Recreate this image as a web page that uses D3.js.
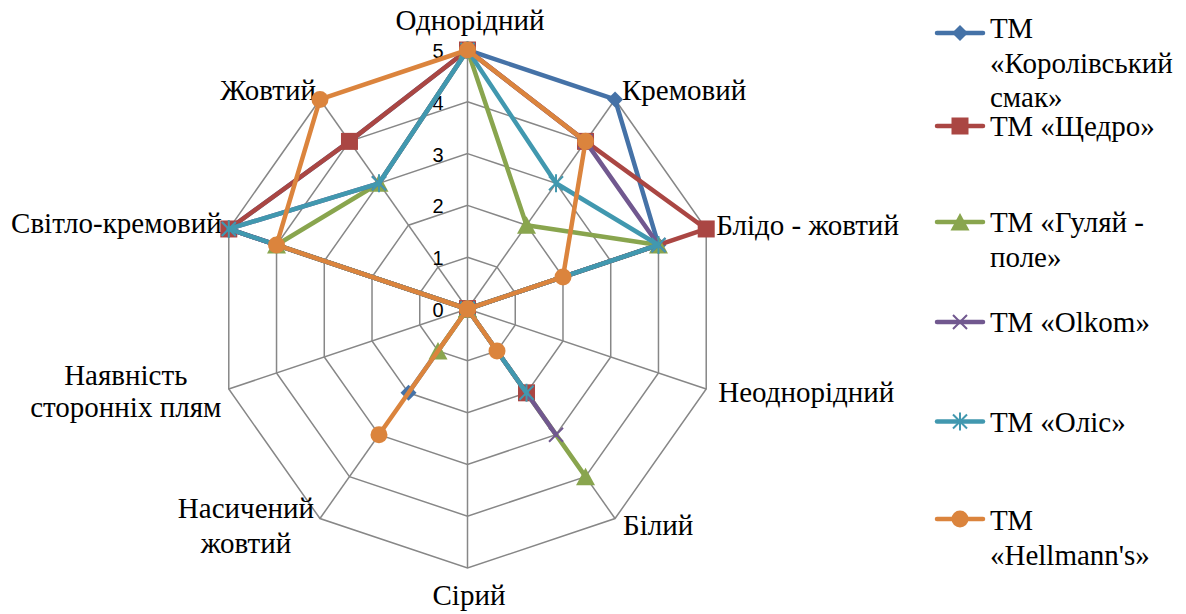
<!DOCTYPE html>
<html><head><meta charset="utf-8">
<script src="https://cdn.jsdelivr.net/npm/d3@7"></script>
<style>html,body{margin:0;padding:0;background:#fff;}svg{display:block;}</style>
</head><body>
<svg id="chart" width="1186" height="614"></svg>
<script>
const categories = ["Однорідний","Кремовий","Блідо - жовтий","Неоднорідний","Білий","Сірий","Насичений жовтий","Наявність сторонніх плям","Світло-кремовий","Жовтий"];
const tickValues = [0,1,2,3,4,5];
const seriesNames = ["ТМ «Королівський смак»","ТМ «Щедро»","ТМ «Гуляй - поле»","ТМ «Olkom»","ТМ «Оліс»","ТМ «Hellmann's»"];
const korolivskyi = [5,5,4,0,0,0,2,0,5,4];
const shchedro    = [5,4,5,0,2,0,0,0,5,4];
const huliaipole  = [5,2,4,0,4,0,1,0,4,3];
const olkom       = [5,4,4,0,3,0,0,0,5,3];
const olis        = [5,3,4,0,2,0,0,0,5,3];
const hellmanns   = [5,4,2,0,1,0,3,0,4,5];
const seriesValues = [korolivskyi, shchedro, huliaipole, olkom, olis, hellmanns];

const colors = ["#4572A7","#AA4643","#89A54E","#71588F","#4198AF","#DB843D"];
const markers = ["diamond","square","triangle","x","asterisk","circle"];

const svg = d3.select("#chart");
const cx = 467.5, cy = 309;
const rX = d3.scaleLinear().domain([0,5]).range([0,251]);
const rY = d3.scaleLinear().domain([0,5]).range([0,259]);
const ang = d3.scaleLinear().domain([0, categories.length]).range([0, 2*Math.PI]);
function pt(i, v){ const a = ang(i); return [cx + rX(v)*Math.sin(a), cy - rY(v)*Math.cos(a)]; }

// grid rings
const grid = svg.append("g");
tickValues.filter(t=>t>0).forEach(t=>{
  grid.append("path")
    .attr("d", d3.line()(categories.map((c,i)=>pt(i,t))) + "Z")
    .attr("fill","none").attr("stroke","#878787").attr("stroke-width",1.5);
});
categories.forEach((c,i)=>{
  const p = pt(i,5);
  grid.append("line").attr("x1",cx).attr("y1",cy).attr("x2",p[0]).attr("y2",p[1])
    .attr("stroke","#878787").attr("stroke-width",1.5);
});

// tick labels
svg.append("g").selectAll("text").data(tickValues).join("text")
  .attr("x", cx-24).attr("y", d=>cy - rY(d) + 1)
  .attr("text-anchor","end").attr("dominant-baseline","central")
  .attr("font-family","'Liberation Sans', Arial, sans-serif").attr("font-size",20).attr("fill","#000")
  .text(d=>d);

// category labels
const labelCfg = [
  {anchor:"middle", dx:2.5, dy:-20, lh:33, lines:["Однорідний"]},
  {anchor:"start",  dx:7,   dy:0.5, lh:33, lines:["Кремовий"]},
  {anchor:"start",  dx:10,  dy:6,   lh:33, lines:["Блідо - жовтий"]},
  {anchor:"start",  dx:12,  dy:12.5,lh:33, lines:["Неоднорідний"]},
  {anchor:"start",  dx:8,   dy:16.5,lh:33, lines:["Білий"]},
  {anchor:"middle", dx:1.5, dy:37,  lh:33, lines:["Сірий"]},
  {anchor:"middle", dx:-74, dy:-0.5,lh:35, lines:["Насичений","жовтий"]},
  {anchor:"middle", dx:-103,dy:-4,  lh:32, lines:["Наявність","сторонніх плям"]},
  {anchor:"end",    dx:-7,  dy:4,   lh:33, lines:["Світло-кремовий"]},
  {anchor:"end",    dx:-4,  dy:0.5, lh:33, lines:["Жовтий"]}
];
const lab = svg.append("g").attr("font-family","'Liberation Serif','Times New Roman',serif").attr("font-size",29).attr("fill","#000");
categories.forEach((c,i)=>{
  const p = pt(i,5), cfg = labelCfg[i];
  const t = lab.append("text").attr("text-anchor",cfg.anchor);
  cfg.lines.forEach((ln,k)=>{
    t.append("tspan").attr("x",p[0]+cfg.dx).attr("y",p[1]+cfg.dy+k*cfg.lh).text(ln);
  });
});

function drawMarker(g, type, x, y, color){
  if(type==="diamond"){
    g.append("path").attr("d",`M${x},${y-8}L${x+8},${y}L${x},${y+8}L${x-8},${y}Z`).attr("fill",color);
  } else if(type==="square"){
    g.append("rect").attr("x",x-8.5).attr("y",y-8.5).attr("width",17).attr("height",17).attr("fill",color);
  } else if(type==="triangle"){
    g.append("path").attr("d",`M${x},${y-9}L${x+9.5},${y+8.5}L${x-9.5},${y+8.5}Z`).attr("fill",color);
  } else if(type==="x"){
    g.append("path").attr("d",`M${x-7},${y-7}L${x+7},${y+7}M${x-7},${y+7}L${x+7},${y-7}`).attr("stroke",color).attr("stroke-width",2).attr("fill","none");
  } else if(type==="asterisk"){
    g.append("path").attr("d",`M${x-7},${y-7}L${x+7},${y+7}M${x-7},${y+7}L${x+7},${y-7}M${x},${y-9}L${x},${y+9}`).attr("stroke",color).attr("stroke-width",2).attr("fill","none");
  } else if(type==="circle"){
    g.append("circle").attr("cx",x).attr("cy",y).attr("r",8.5).attr("fill",color);
  }
}

// series
const lineGen = d3.line();
seriesValues.forEach((vals,s)=>{
  const g = svg.append("g");
  const pts = vals.map((v,i)=>pt(i,v));
  g.append("path").attr("d", lineGen(pts)+"Z").attr("fill","none")
    .attr("stroke",colors[s]).attr("stroke-width",4.5).attr("stroke-linejoin","round");
  pts.forEach(p=>drawMarker(g, markers[s], p[0], p[1], colors[s]));
});

// legend
const legendLines = [["ТМ","«Королівський","смак»"],["ТМ «Щедро»"],["ТМ «Гуляй -","поле»"],["ТМ «Olkom»"],["ТМ «Оліс»"],["ТМ","«Hellmann's»"]];
const legendY = [33,126,222,322,421.5,519];
const legendBase = [5,10,10,10,10,11];
const leg = svg.append("g").attr("font-family","'Liberation Serif','Times New Roman',serif").attr("font-size",29).attr("fill","#000");
seriesNames.forEach((n,s)=>{
  const y = legendY[s];
  const g = leg.append("g");
  g.append("line").attr("x1",937).attr("x2",983).attr("y1",y).attr("y2",y)
    .attr("stroke",colors[s]).attr("stroke-width",4.5).attr("stroke-linecap","round");
  drawMarker(g, markers[s], 960, y, colors[s]);
  const t = g.append("text").attr("x",990);
  legendLines[s].forEach((ln,k)=>{
    t.append("tspan").attr("x",990).attr("y",y+legendBase[s]+k*34.5).text(ln);
  });
});
</script>
</body></html>
